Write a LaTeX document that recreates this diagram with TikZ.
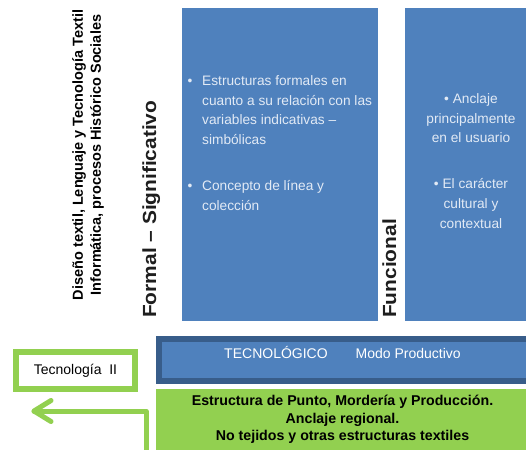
\documentclass[tikz,border=0pt]{standalone}
\usepackage{fontspec}
\setmainfont{Liberation Sans}
\newfontfamily\heavyfont{Liberation Sans}[FakeStretch=1.1]
\usetikzlibrary{calc}
\definecolor{boxblue}{RGB}{79,129,189}
\definecolor{bordblue}{RGB}{56,93,138}
\definecolor{lgreen}{RGB}{146,208,80}
\definecolor{ltext}{RGB}{226,234,245}
\definecolor{darktext}{RGB}{30,30,30}
\begin{document}
\begin{tikzpicture}[x=1pt,y=-1pt,
  bluepanel/.style={fill=boxblue, draw=none, inner sep=0pt, anchor=north west},
  leftpara/.style={text=ltext, inner sep=0pt, anchor=north west, align=left,
    font=\fontsize{13.7}{19.6}\selectfont},
  bulletmark/.style={text=ltext, inner sep=0pt, anchor=base,
    font=\fontsize{13.7}{19.6}\selectfont},
  centerpara/.style={text=ltext, inner sep=0pt, anchor=north, align=center,
    font=\fontsize{13.7}{19.6}\selectfont},
  axislabel/.style={rotate=90, anchor=base west, inner sep=0pt, text=darktext,
    font=\heavyfont\bfseries\fontsize{19}{23}\selectfont},
  garrow/.style={draw=lgreen, line width=5pt, line cap=round, line join=round}
]
\useasboundingbox (0,0) rectangle (526,449);
\fill[white] (0,0) rectangle (526,449);

% blue panels
\node[bluepanel, minimum width=196pt, minimum height=313pt] (formalbox) at (182,8) {};
\node[bluepanel, minimum width=130pt, minimum height=313pt] (funcbox) at (405,8) {};

% panel texts
\node[bulletmark] (b1) at (190,85.6) {•};
\node[leftpara] (p1) at (202,75.6) {Estructuras formales en\\cuanto a su relación con las\\variables indicativas –\\simbólicas};
\node[bulletmark] (b2) at (190,190.6) {•};
\node[leftpara] (p2) at (202,180.6) {Concepto de línea y\\colección};

\node[centerpara] (q1) at (471,93.6) {• Anclaje\\principalmente\\en el usuario};
\node[centerpara] (q2) at (471,178.6) {• El carácter\\cultural y\\contextual};

% rotated labels
\node[rotate=90, inner sep=0pt, align=center, text=black,
  font=\bfseries\fontsize{14.5}{18}\selectfont] (ejes) at (88,155)
  {Diseño textil, Lenguaje y Tecnología Textil\\Informática, procesos Histórico Sociales};
\node[axislabel] (formal) at (156,318) {Formal – Significativo};
\node[axislabel] (funcional) at (396,318) {Funcional};

% technological bar
\node[draw=bordblue, line width=6pt, fill=boxblue, anchor=north west,
  minimum width=380pt, minimum height=42pt, inner sep=0pt] (techbar) at (156,336) {};
\node[text=white, anchor=base, inner sep=0pt, font=\fontsize{14}{17}\selectfont]
  (techtext) at (342.5,358.5) {TECNOLÓGICO\hspace{28pt}Modo Productivo};

% green box
\node[fill=lgreen, anchor=north west, minimum width=375pt, minimum height=65pt,
  inner sep=0pt] (greenbox) at (156,389) {};
\node[anchor=north, align=center, inner sep=0pt, text=black,
  font=\bfseries\fontsize{14.2}{17.5}\selectfont] (greentext) at (342.5,395)
  {Estructura de Punto, Mordería y Producción.\\Anclaje regional.\\No tejidos y otras estructuras textiles};

% Tecnologia II box
\node[draw=lgreen, line width=6pt, fill=white, minimum width=119pt,
  minimum height=37pt, inner sep=0pt, font=\fontsize{14}{17}\selectfont]
  (tec2) at (75.5,370.5) {Tecnología~~II};

% arrow
\coordinate (astart) at (146,455);
\coordinate (atip) at (34,411);
\coordinate (barbup) at (51,400.5);
\coordinate (barbdown) at (51,421.5);
\draw[garrow] (astart) |- (atip);
\draw[garrow] (barbup) -- (atip) -- (barbdown);
\end{tikzpicture}
\end{document}
